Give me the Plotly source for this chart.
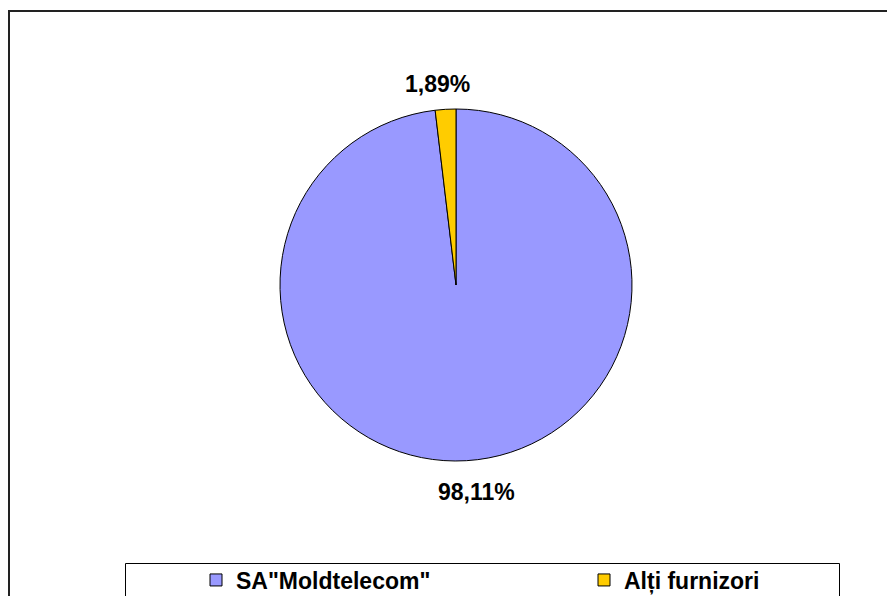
import plotly.graph_objects as go

labels = ['SA"Moldtelecom"', "Alți furnizori"]
values = [98.11, 1.89]
colors = ["#9999FF", "#FFCC00"]

W, H = 1100, 596   # wider than the viewport; the right part is clipped like the reference
OFF = 8  # page body margin

def px(sx):
    return (sx - OFF) / W

def py(sy):
    return 1 - (sy - OFF) / H

cx, cy, r = 456, 285, 176  # screen pixels
label_pos = [(476, 492), (437.5, 84)]

fig = go.Figure(go.Pie(
    labels=labels, values=values, sort=False, direction="clockwise", rotation=0,
    marker=dict(colors=colors, line=dict(color="black", width=1)),
    textinfo="none", hoverinfo="label+percent",
    domain=dict(x=[px(cx - r), px(cx + r)], y=[py(cy + r), py(cy - r)]),
))

def fmt(v):
    return f"{v:.2f}".replace(".", ",") + "%"

annotations = []
for v, (sx, sy) in zip(values, label_pos):
    annotations.append(dict(
        text=fmt(v), x=px(sx), y=py(sy), xref="paper", yref="paper",
        showarrow=False, xanchor="center", yanchor="middle",
        font=dict(family="Liberation Sans", size=23, color="black", weight="bold"),
    ))

shapes = [
    dict(type="rect", xref="paper", yref="paper", x0=px(9), x1=px(960), y0=-0.05, y1=py(11),
         line=dict(color="#222222", width=2), fillcolor="rgba(0,0,0,0)", layer="below"),
    dict(type="rect", xref="paper", yref="paper", x0=px(125.5), x1=px(839.5), y0=-0.05, y1=py(563.5),
         line=dict(color="black", width=1), fillcolor="white", layer="below"),
]

fig.update_layout(
    width=W, height=H, margin=dict(l=0, r=0, t=0, b=0),
    paper_bgcolor="white", plot_bgcolor="white",
    showlegend=True,
    legend=dict(orientation="h", x=px(196), y=py(580), xanchor="left", yanchor="middle",
                entrywidth=343, entrywidthmode="pixels", bgcolor="rgba(0,0,0,0)", borderwidth=0,
                font=dict(family="Liberation Sans", size=23, color="black", weight="bold")),
    annotations=annotations, shapes=shapes,
)
fig.write_html("out.html")
